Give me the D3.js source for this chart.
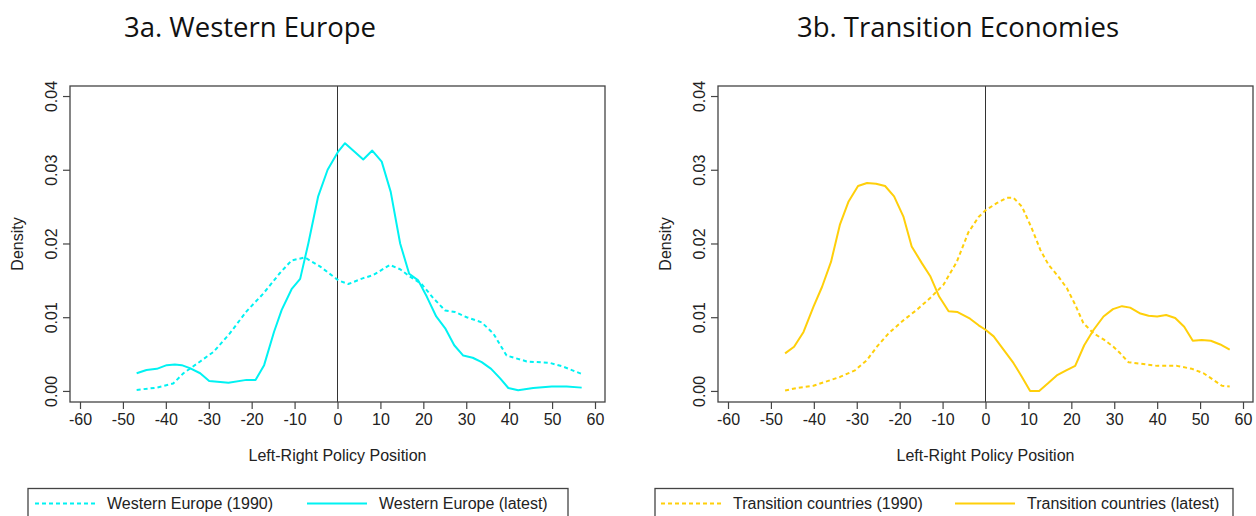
<!doctype html>
<html>
<head>
<meta charset="utf-8">
<style>
  body { margin: 0; background: #fff; }
  svg { display: block; }
  text { font-family: 'Liberation Sans', Arial, sans-serif; fill: #222; }
  text.title { font-family: 'Open Sans', 'Noto Sans', sans-serif; font-size: 27.5px; fill: #111; }
  .tick text { font-size: 16px; font-family: 'Liberation Sans', Arial, sans-serif; fill: #222; }
  text.label { font-size: 16px; }
  text.legend { font-size: 16px; }
  .frame { fill: none; stroke: #444; stroke-width: 1.3; }
  .axis path { display: none; }
  .axis line { stroke: #444; stroke-width: 1.2; }
  .zero { stroke: #333; stroke-width: 1; }
</style>
<script src="https://d3js.org/d3.v7.min.js"></script>
</head>
<body>
<svg width="1256" height="516"></svg>
<script>
// ---- data ----
const xTicks = [-60, -50, -40, -30, -20, -10, 0, 10, 20, 30, 40, 50, 60]
const yTicks = [0, 0.01, 0.02, 0.03, 0.04]
const yTickLabels = ['0.00', '0.01', '0.02', '0.03', '0.04']

const we1990X = [-46.8, -42.1, -38.3, -35.9, -32, -28.9, -25.1, -21.2, -17.3, -13.4, -10.7, -7.6, -4.1, 0.2, 2.5, 6.0, 8.3, 12.2, 14.6, 16.9, 19.6, 22.3, 25.1, 27.4, 30.1, 33.6, 36.3, 39.4, 44.1, 49.5, 52.6, 56.9]
const we1990Y = [0.00014, 0.00045, 0.001, 0.0024, 0.004, 0.0053, 0.0078, 0.0108, 0.0132, 0.016, 0.0177, 0.0181, 0.0169, 0.0150, 0.0145, 0.0153, 0.0157, 0.0171, 0.0165, 0.0155, 0.0145, 0.0126, 0.0109, 0.0107, 0.0100, 0.0093, 0.0078, 0.0048, 0.0040, 0.0038, 0.0033, 0.0023]

const weLatestX = [-46.8, -44.5, -42.1, -39.8, -37.9, -36.3, -34.4, -32, -29.9, -25.4, -21.2, -19.1, -17.1, -14.8, -13, -10.7, -8.7, -6.8, -4.5, -2.3, 0.2, 1.75, 6.0, 8.1, 10.3, 12.4, 14.6, 16.7, 18.8, 20.8, 23, 25.1, 27.2, 29.3, 31.5, 33.6, 35.8, 37.9, 39.8, 42.1, 45.6, 49.9, 53.4, 56.9]
const weLatestY = [0.0024, 0.00285, 0.0030, 0.0035, 0.0036, 0.0035, 0.0031, 0.0024, 0.00135, 0.0011, 0.0015, 0.0015, 0.0035, 0.008, 0.011, 0.0138, 0.0152, 0.020, 0.0264, 0.030, 0.0325, 0.0336, 0.0314, 0.0326, 0.0311, 0.0270, 0.0200, 0.0159, 0.0150, 0.0128, 0.0101, 0.0085, 0.0062, 0.0048, 0.0045, 0.0039, 0.0030, 0.0017, 0.0004, 0.0001, 0.0004, 0.0006, 0.0006, 0.00045]

const tc1990X = [-46.7, -44, -40.1, -37.0, -33.9, -30.4, -27.6, -25.3, -22.6, -19.1, -16.0, -12.9, -9.8, -6.7, -4.0, -1.6, 0, 2.7, 5.0, 6.5, 8.5, 10.6, 12.8, 14.7, 17.0, 19.0, 20.9, 22.8, 25.2, 27.5, 29.8, 31.4, 33.3, 36.1, 40.0, 44.6, 48.1, 50.8, 53.1, 55.1, 56.9]
const tc1990Y = [0.00005, 0.0004, 0.0007, 0.0013, 0.0019, 0.0028, 0.0042, 0.0060, 0.0078, 0.0096, 0.0110, 0.0126, 0.0144, 0.0175, 0.0215, 0.0236, 0.0245, 0.0255, 0.0262, 0.0262, 0.0250, 0.0223, 0.0191, 0.0171, 0.0155, 0.0139, 0.0117, 0.0092, 0.0078, 0.0070, 0.0060, 0.0051, 0.0039, 0.0037, 0.0034, 0.0034, 0.0030, 0.0024, 0.0015, 0.0007, 0.0006]

const tcLatestX = [-46.7, -44.6, -42.4, -40.1, -38.1, -36.0, -33.9, -31.9, -29.7, -27.6, -25.5, -23.4, -21.3, -19.1, -17.2, -14.8, -12.9, -10.8, -8.6, -6.5, -3.6, -1.6, 0, 1.9, 4.2, 6.5, 8.5, 10.4, 12.5, 14.5, 16.6, 18.8, 20.9, 23.0, 25.2, 27.5, 29.7, 31.8, 33.7, 36.1, 38.0, 40.0, 42.1, 44.2, 46.3, 48.3, 50.4, 52.5, 54.7, 56.9]
const tcLatestY = [0.0051, 0.0060, 0.0080, 0.0114, 0.0141, 0.0175, 0.0226, 0.0257, 0.0278, 0.0282, 0.0281, 0.0278, 0.0264, 0.0236, 0.0196, 0.0173, 0.0156, 0.0128, 0.0108, 0.0107, 0.0098, 0.0089, 0.0083, 0.0074, 0.0056, 0.0038, 0.0019, 0.0, 0.0, 0.0010, 0.0021, 0.0028, 0.0034, 0.0062, 0.0083, 0.0101, 0.0111, 0.0115, 0.0113, 0.0105, 0.0102, 0.0101, 0.0103, 0.0099, 0.0087, 0.0068, 0.0069, 0.0068, 0.0063, 0.0056]

const panels = [
  { title: '3a. Western Europe', titleX: 250, left: 70, color: '#00f2f2',
    legend: ['Western Europe (1990)', 'Western Europe (latest)'],
    series: [[we1990X, we1990Y, true], [weLatestX, weLatestY, false]],
    legendBox: [28, 568], legendText: [107, 379] },
  { title: '3b. Transition Economies', titleX: 958, left: 718, color: '#ffcf0a',
    legend: ['Transition countries (1990)', 'Transition countries (latest)'],
    series: [[tc1990X, tc1990Y, true], [tcLatestX, tcLatestY, false]],
    legendBox: [655, 1233], legendText: [733, 1027] }
]

const svg = d3.select('svg')
const boxW = 535
const plotTop = 86, plotBottom = 402

panels.forEach(p => {
  const g = svg.append('g')
  const x = d3.scaleLinear().domain([-62.33, 62.33]).range([p.left, p.left + boxW])
  const y = d3.scaleLinear().domain([-0.0015, 0.04136]).range([plotBottom, plotTop])

  // title
  g.append('text').attr('class', 'title')
    .attr('x', p.titleX)
    .attr('y', 37)
    .attr('text-anchor', 'middle')
    .text(p.title)

  // zero line
  g.append('line').attr('class', 'zero')
    .attr('x1', x(0)).attr('x2', x(0))
    .attr('y1', plotTop).attr('y2', plotBottom)

  // curves
  p.series.forEach(([xs, ys, dashed]) => {
    const pts = xs.map((v, i) => [v, ys[i]])
    g.append('path')
      .datum(pts)
      .attr('fill', 'none')
      .attr('stroke', p.color)
      .attr('stroke-width', 2)
      .attr('stroke-linejoin', 'round')
      .attr('stroke-dasharray', dashed ? '4 3' : null)
      .attr('d', d3.line().x(d => x(d[0])).y(d => y(d[1])))
  })

  // frame
  g.append('rect').attr('class', 'frame')
    .attr('x', p.left).attr('y', plotTop)
    .attr('width', boxW).attr('height', plotBottom - plotTop)

  // x axis
  g.append('g').attr('class', 'axis')
    .attr('transform', `translate(0, ${plotBottom})`)
    .call(d3.axisBottom(x).tickValues(xTicks).tickSize(7).tickPadding(5).tickFormat(d => String(d)))

  // y axis with rotated labels
  const ya = g.append('g').attr('class', 'axis')
    .attr('transform', `translate(${p.left}, 0)`)
    .call(d3.axisLeft(y).tickValues(yTicks).tickSize(7).tickFormat((d, i) => yTickLabels[i]))
  ya.selectAll('.tick text')
    .attr('x', null).attr('dy', null)
    .attr('text-anchor', 'middle')
    .attr('transform', 'translate(-13, 0) rotate(-90)')

  // axis titles
  g.append('text').attr('class', 'label')
    .attr('text-anchor', 'middle')
    .attr('transform', `translate(${p.left - 47}, ${(plotTop + plotBottom) / 2}) rotate(-90)`)
    .text('Density')
  g.append('text').attr('class', 'label')
    .attr('x', x(0)).attr('y', 461)
    .attr('text-anchor', 'middle')
    .text('Left-Right Policy Position')

  // legend
  const [lx0, lx1] = p.legendBox
  g.append('rect').attr('class', 'frame')
    .attr('x', lx0).attr('y', 488.5)
    .attr('width', lx1 - lx0).attr('height', 40)
  p.legend.forEach((t, i) => {
    const tx = p.legendText[i]
    g.append('line')
      .attr('x1', tx - 72).attr('x2', tx - 12)
      .attr('y1', 503.5).attr('y2', 503.5)
      .attr('stroke', p.color).attr('stroke-width', 2)
      .attr('stroke-dasharray', i === 0 ? '4 3' : null)
    g.append('text').attr('class', 'legend')
      .attr('x', tx).attr('y', 509)
      .text(t)
  })
})
</script>
</body>
</html>
